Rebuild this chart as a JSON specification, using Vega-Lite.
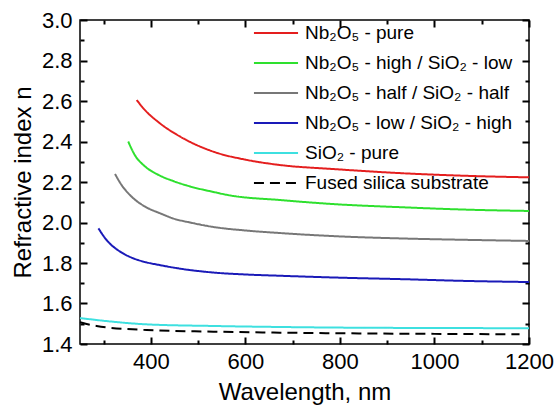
{
  "$schema": "https://vega.github.io/schema/vega-lite/v6.json",
  "width": 449,
  "height": 324,
  "autosize": {"type": "none"},
  "padding": {"left": 80, "top": 20, "right": 29, "bottom": 66},
  "background": "white",
  "config": {
    "view": {"stroke": "#000000", "strokeWidth": 1.5},
    "font": "Liberation Sans",
    "axis": {"domain": false, "grid": false, "ticks": true, "tickColor": "#000000", "tickWidth": 2, "labelColor": "#000000", "titleColor": "#000000", "labelFont": "Liberation Sans", "titleFont": "Liberation Sans", "titleFontWeight": "normal"},
    "legend": {"orient": "none", "legendX": 180, "legendY": -3, "title": null, "labelFontSize": 19, "labelFont": "Liberation Sans", "labelColor": "#000000", "symbolType": "M-1.47,0H1.47", "symbolStrokeWidth": 2, "symbolSize": 900, "rowPadding": 4, "labelOffset": 13, "labelLimit": 400}
  },
  "datasets": {
    "curves": [
      {"s": "Nb₂O₅ - pure", "w": 370, "n": 2.605},
      {"s": "Nb₂O₅ - pure", "w": 384, "n": 2.564},
      {"s": "Nb₂O₅ - pure", "w": 419, "n": 2.49},
      {"s": "Nb₂O₅ - pure", "w": 462, "n": 2.424},
      {"s": "Nb₂O₅ - pure", "w": 532, "n": 2.35},
      {"s": "Nb₂O₅ - pure", "w": 603, "n": 2.309},
      {"s": "Nb₂O₅ - pure", "w": 673, "n": 2.284},
      {"s": "Nb₂O₅ - pure", "w": 793, "n": 2.263},
      {"s": "Nb₂O₅ - pure", "w": 934, "n": 2.243},
      {"s": "Nb₂O₅ - pure", "w": 1075, "n": 2.23},
      {"s": "Nb₂O₅ - pure", "w": 1200, "n": 2.223},
      {"s": "Nb₂O₅ - high / SiO₂ - low", "w": 352, "n": 2.40},
      {"s": "Nb₂O₅ - high / SiO₂ - low", "w": 366, "n": 2.333},
      {"s": "Nb₂O₅ - high / SiO₂ - low", "w": 388, "n": 2.276},
      {"s": "Nb₂O₅ - high / SiO₂ - low", "w": 416, "n": 2.235},
      {"s": "Nb₂O₅ - high / SiO₂ - low", "w": 447, "n": 2.205},
      {"s": "Nb₂O₅ - high / SiO₂ - low", "w": 483, "n": 2.178},
      {"s": "Nb₂O₅ - high / SiO₂ - low", "w": 530, "n": 2.152},
      {"s": "Nb₂O₅ - high / SiO₂ - low", "w": 567, "n": 2.134},
      {"s": "Nb₂O₅ - high / SiO₂ - low", "w": 673, "n": 2.111},
      {"s": "Nb₂O₅ - high / SiO₂ - low", "w": 793, "n": 2.09},
      {"s": "Nb₂O₅ - high / SiO₂ - low", "w": 934, "n": 2.075},
      {"s": "Nb₂O₅ - high / SiO₂ - low", "w": 1075, "n": 2.063},
      {"s": "Nb₂O₅ - high / SiO₂ - low", "w": 1200, "n": 2.057},
      {"s": "Nb₂O₅ - half  / SiO₂ - half", "w": 324, "n": 2.24},
      {"s": "Nb₂O₅ - half  / SiO₂ - half", "w": 338, "n": 2.185},
      {"s": "Nb₂O₅ - half  / SiO₂ - half", "w": 359, "n": 2.128},
      {"s": "Nb₂O₅ - half  / SiO₂ - half", "w": 388, "n": 2.078},
      {"s": "Nb₂O₅ - half  / SiO₂ - half", "w": 420, "n": 2.045},
      {"s": "Nb₂O₅ - half  / SiO₂ - half", "w": 447, "n": 2.02},
      {"s": "Nb₂O₅ - half  / SiO₂ - half", "w": 483, "n": 2.0},
      {"s": "Nb₂O₅ - half  / SiO₂ - half", "w": 532, "n": 1.978},
      {"s": "Nb₂O₅ - half  / SiO₂ - half", "w": 603, "n": 1.96},
      {"s": "Nb₂O₅ - half  / SiO₂ - half", "w": 673, "n": 1.948},
      {"s": "Nb₂O₅ - half  / SiO₂ - half", "w": 793, "n": 1.932},
      {"s": "Nb₂O₅ - half  / SiO₂ - half", "w": 934, "n": 1.921},
      {"s": "Nb₂O₅ - half  / SiO₂ - half", "w": 1075, "n": 1.914},
      {"s": "Nb₂O₅ - half  / SiO₂ - half", "w": 1200, "n": 1.909},
      {"s": "Nb₂O₅ - low / SiO₂ - high", "w": 289, "n": 1.971},
      {"s": "Nb₂O₅ - low / SiO₂ - high", "w": 306, "n": 1.914},
      {"s": "Nb₂O₅ - low / SiO₂ - high", "w": 335, "n": 1.856},
      {"s": "Nb₂O₅ - low / SiO₂ - high", "w": 363, "n": 1.823},
      {"s": "Nb₂O₅ - low / SiO₂ - high", "w": 391, "n": 1.803},
      {"s": "Nb₂O₅ - low / SiO₂ - high", "w": 416, "n": 1.791},
      {"s": "Nb₂O₅ - low / SiO₂ - high", "w": 462, "n": 1.772},
      {"s": "Nb₂O₅ - low / SiO₂ - high", "w": 532, "n": 1.753},
      {"s": "Nb₂O₅ - low / SiO₂ - high", "w": 603, "n": 1.743},
      {"s": "Nb₂O₅ - low / SiO₂ - high", "w": 673, "n": 1.737},
      {"s": "Nb₂O₅ - low / SiO₂ - high", "w": 793, "n": 1.728},
      {"s": "Nb₂O₅ - low / SiO₂ - high", "w": 934, "n": 1.72},
      {"s": "Nb₂O₅ - low / SiO₂ - high", "w": 1075, "n": 1.711},
      {"s": "Nb₂O₅ - low / SiO₂ - high", "w": 1200, "n": 1.706},
      {"s": "SiO₂ - pure", "w": 250, "n": 1.528},
      {"s": "SiO₂ - pure", "w": 320, "n": 1.51},
      {"s": "SiO₂ - pure", "w": 391, "n": 1.497},
      {"s": "SiO₂ - pure", "w": 532, "n": 1.489},
      {"s": "SiO₂ - pure", "w": 673, "n": 1.484},
      {"s": "SiO₂ - pure", "w": 800, "n": 1.481},
      {"s": "SiO₂ - pure", "w": 1000, "n": 1.479},
      {"s": "SiO₂ - pure", "w": 1200, "n": 1.478},
      {"s": "Fused silica substrate", "w": 250, "n": 1.507},
      {"s": "Fused silica substrate", "w": 285, "n": 1.489},
      {"s": "Fused silica substrate", "w": 391, "n": 1.469},
      {"s": "Fused silica substrate", "w": 532, "n": 1.461},
      {"s": "Fused silica substrate", "w": 673, "n": 1.456},
      {"s": "Fused silica substrate", "w": 800, "n": 1.453},
      {"s": "Fused silica substrate", "w": 1000, "n": 1.45},
      {"s": "Fused silica substrate", "w": 1180, "n": 1.448}
    ]
  },
  "data": {"name": "curves"},
  "layer": [
    {
      "mark": {"type": "line", "interpolate": "monotone", "strokeWidth": 2},
      "encoding": {
        "x": {"field": "w", "type": "quantitative", "scale": {"domain": [250, 1200], "nice": false, "zero": false},
          "axis": {"orient": "bottom", "offset": -7, "title": "Wavelength, nm", "titleFontSize": 24, "titlePadding": 8, "values": [400,600,800,1000,1200], "format": "d", "labelFontSize": 22, "labelPadding": 7, "tickSize": 7, "labelFlush": false, "labelOverlap": false}},
        "y": {"field": "n", "type": "quantitative", "scale": {"domain": [1.4, 3.0], "nice": false, "zero": false},
          "axis": {"orient": "left", "offset": -7, "title": "Refractive index n", "titleFontSize": 24, "titlePadding": 6, "values": [1.4,1.6,1.8,2.0,2.2,2.4,2.6,2.8,3.0], "format": ".1f", "labelFontSize": 22, "labelPadding": 8, "tickSize": 7, "labelFlush": false, "labelOverlap": false}},
        "color": {"field": "s", "type": "nominal", "scale": {"domain": ["Nb₂O₅ - pure", "Nb₂O₅ - high / SiO₂ - low", "Nb₂O₅ - half  / SiO₂ - half", "Nb₂O₅ - low / SiO₂ - high", "SiO₂ - pure", "Fused silica substrate"], "range": ["#e41e1e", "#2ee02e", "#777777", "#1a1ab8", "#3ee0e0", "#000000"]}},
        "strokeDash": {"field": "s", "type": "nominal", "scale": {"domain": ["Nb₂O₅ - pure", "Nb₂O₅ - high / SiO₂ - low", "Nb₂O₅ - half  / SiO₂ - half", "Nb₂O₅ - low / SiO₂ - high", "SiO₂ - pure", "Fused silica substrate"], "range": [[1,0],[1,0],[1,0],[1,0],[1,0],[10,6]]}}
      }
    },
    {
      "mark": {"type": "line", "opacity": 0},
      "encoding": {
        "x": {"field": "w", "type": "quantitative", "scale": {"domain": [250, 1200], "nice": false, "zero": false},
          "axis": {"orient": "top", "offset": -7, "title": null, "labels": false, "values": [400,600,800,1000,1200], "tickSize": 7}},
        "y": {"field": "n", "type": "quantitative", "scale": {"domain": [1.4, 3.0], "nice": false, "zero": false},
          "axis": {"orient": "right", "offset": -7, "title": null, "labels": false, "values": [1.4,1.6,1.8,2.0,2.2,2.4,2.6,2.8,3.0], "tickSize": 7}},
        "detail": {"field": "s", "type": "nominal"}
      }
    },
    {
      "mark": {"type": "line", "opacity": 0},
      "encoding": {
        "x": {"field": "w", "type": "quantitative", "scale": {"domain": [250, 1200], "nice": false, "zero": false},
          "axis": {"orient": "bottom", "offset": -4, "title": null, "labels": false, "values": [300,500,700,900,1100], "tickSize": 4}},
        "y": {"field": "n", "type": "quantitative", "scale": {"domain": [1.4, 3.0], "nice": false, "zero": false},
          "axis": {"orient": "left", "offset": -4, "title": null, "labels": false, "values": [1.5,1.7,1.9,2.1,2.3,2.5,2.7,2.9], "tickSize": 4}},
        "detail": {"field": "s", "type": "nominal"}
      }
    },
    {
      "mark": {"type": "line", "opacity": 0},
      "encoding": {
        "x": {"field": "w", "type": "quantitative", "scale": {"domain": [250, 1200], "nice": false, "zero": false},
          "axis": {"orient": "top", "offset": -4, "title": null, "labels": false, "values": [300,500,700,900,1100], "tickSize": 4}},
        "y": {"field": "n", "type": "quantitative", "scale": {"domain": [1.4, 3.0], "nice": false, "zero": false},
          "axis": {"orient": "right", "offset": -4, "title": null, "labels": false, "values": [1.5,1.7,1.9,2.1,2.3,2.5,2.7,2.9], "tickSize": 4}},
        "detail": {"field": "s", "type": "nominal"}
      }
    }
  ],
  "resolve": {"axis": {"x": "independent", "y": "independent"}}
}
